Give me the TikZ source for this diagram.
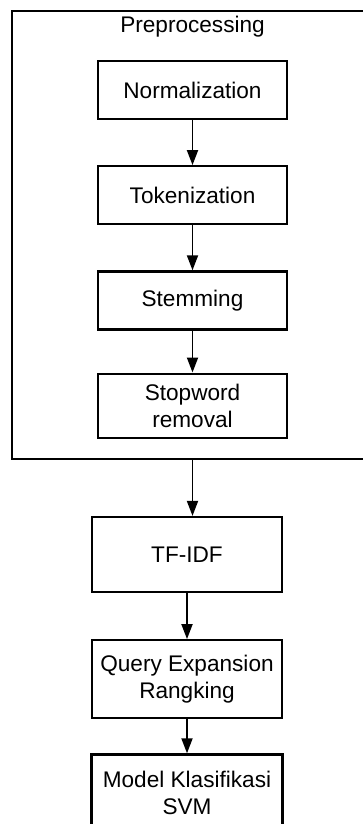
\documentclass[tikz,border=0pt]{standalone}
\usepackage{fontspec}
\setmainfont{Liberation Sans}
\usetikzlibrary{arrows.meta, positioning}
\tikzset{
  stepbox/.style={rectangle, draw=black, fill=white, line width=2.2pt,
    minimum width=189pt, minimum height=58pt, align=center,
    font=\fontsize{22.6}{27}\selectfont, inner sep=4pt},
  groupbox/.style={rectangle, draw=black, line width=2.2pt,
    minimum width=361pt, minimum height=448pt},
  arrow/.style={-{Triangle[length=15pt, width=11pt]}, line width=1.8pt, color=black}
}

\begin{document}
\begin{tikzpicture}[x=1pt, y=1pt, node distance=45pt]
  \useasboundingbox (0,0) rectangle (363,-824);
  \clip (0,0) rectangle (363,-824);

  % Preprocessing group
  \node[groupbox] (prep) at (192.5,-235) {};
  \node[anchor=base, font=\fontsize{22.6}{27}\selectfont] (preplabel) at (192.5,-33) {Preprocessing};

  % Preprocessing steps
  \node[stepbox] (norm) at (192.5,-90) {Normalization};
  \node[stepbox, below=of norm] (token) {Tokenization};
  \node[stepbox, below=of token] (stem) {Stemming};
  \node[stepbox, below=42pt of stem, minimum height=64pt] (stop) {Stopword\\removal};

  % Main pipeline
  \node[stepbox, minimum width=190pt, minimum height=75pt] (tfidf) at (187,-554.5) {TF-IDF};
  \node[stepbox, minimum width=190pt, minimum height=78pt, below=46pt of tfidf] (qe) {Query Expansion\\Rangking};
  \node[stepbox, minimum width=191pt, minimum height=78pt, below=34pt of qe] (svm) {Model Klasifikasi\\SVM};

  % Arrows
  \draw[arrow] (norm) -- (token);
  \draw[arrow] (token) -- (stem);
  \draw[arrow] (stem) -- (stop);
  \draw[arrow] (prep.south) -- (prep.south |- tfidf.north);
  \draw[arrow] (tfidf) -- (qe);
  \draw[arrow] (qe) -- (svm);
\end{tikzpicture}
\end{document}
